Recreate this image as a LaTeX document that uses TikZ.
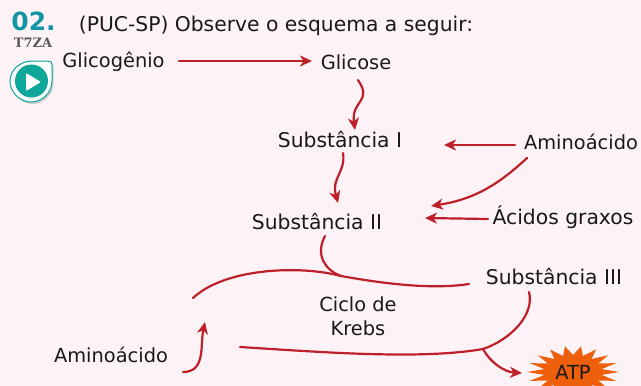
\documentclass[tikz,border=0pt]{standalone}
\usepackage{fontspec}
\setmainfont{DejaVu Sans}
\newfontfamily\slabfont{DejaVu Serif}
\usetikzlibrary{arrows.meta}
\definecolor{paper}{HTML}{FDF3F7}
\definecolor{flowred}{HTML}{BE2029}
\definecolor{tealmark}{HTML}{0FA79A}
\definecolor{numteal}{HTML}{1296A6}
\definecolor{burst}{HTML}{EE5F0C}
\tikzset{
  label/.style={font=\fontsize{19.4}{22}\selectfont, text=black!90, inner sep=0pt, anchor=center},
  widelabel/.style={label, font=\fontsize{20.3}{22}\selectfont},
  flow/.style={draw=flowred, line width=2.2pt, line cap=round, -{Stealth[length=12pt,width=11pt,inset=3.5pt]}},
  rim/.style={draw=flowred, line width=2.2pt, line cap=round},
  badge/.pic={
    \path[pic actions] (32,61) -- (48,61) .. controls (51,61) and (52,62) .. (52,65) -- (52,81)
      .. controls (52,92) and (43,102) .. (31,102)
      .. controls (20,102) and (10,92) .. (10,81.5)
      .. controls (10,70) and (20,61) .. (32,61) -- cycle;
  },
}
\begin{document}
\begin{tikzpicture}[x=1pt,y=-1pt]
  \useasboundingbox (0,0) rectangle (641,386);
  \fill[paper] (0,0) rectangle (641,386);

  % question number and play badge
  \node[inner sep=0pt, text=numteal, font=\fontsize{25}{28}\selectfont\bfseries] (num) at (33.5,21) {02.};
  \node[inner sep=0pt, text=black!65, font=\fontsize{13}{15}\selectfont\slabfont\bfseries] (code) at (33,43) {T7ZA};
  \pic[fill=black!20] at (1.5,2) {badge};
  \pic[fill=white, draw=tealmark, line width=1pt] {badge};
  \fill[tealmark] (31.5,81) circle (16.5);
  \fill[white, rounded corners=1pt] (26,73) -- (41,82) -- (26,91) -- cycle;

  % question statement
  \node[widelabel] (head) at (276,26) {(PUC-SP) Observe o esquema a seguir:};

  % labels
  \node[label] (gly) at (113.5,61.5) {Glicogênio};
  \node[label] (glu) at (356,62.5) {Glicose};
  \node[widelabel] (s1) at (340,140) {Substância I};
  \node[label] (aa1) at (581,142) {Aminoácido};
  \node[widelabel] (s2) at (317,222) {Substância II};
  \node[widelabel] (fat) at (563,217) {Ácidos graxos};
  \node[widelabel] (s3) at (554,277) {Substância III};
  \node[label] (cy1) at (358,304) {Ciclo de};
  \node[label] (cy2) at (358,328) {Krebs};
  \node[label] (aa2) at (111,355) {Aminoácido};

  % ATP burst
  \fill[burst] (619,372)
    \foreach \k in {1,...,35} {
      -- ({573+(mod(\k,2)==0 ? 46 : 29)*cos(\k*360/36)},{372+(mod(\k,2)==0 ? 26 : 17)*sin(\k*360/36)})
    } -- cycle;
  \node[label] (atp) at (573,372) {ATP};

  % free ends of the connectors
  \coordinate (a1) at (179,61);  \coordinate (a2) at (312,61);
  \coordinate (b1) at (358,80);  \coordinate (b2) at (355,130);
  \coordinate (c1) at (343,153); \coordinate (c2) at (338,203);
  \coordinate (d1) at (515,145); \coordinate (d2) at (444,145);
  \coordinate (e1) at (527,158); \coordinate (e2) at (431,206);
  \coordinate (f1) at (488,219); \coordinate (f2) at (425,218);
  \coordinate (g1) at (325,236); \coordinate (g2) at (341,276);
  \coordinate (h1) at (193,298); \coordinate (h2) at (469,284);
  \coordinate (i1) at (240,347); \coordinate (i2) at (529,292);
  \coordinate (j1) at (483,349); \coordinate (j2) at (522,373);
  \coordinate (k1) at (183,372); \coordinate (k2) at (205,322);

  % pathway arrows
  \draw[flow] (a1) -- (a2);
  \draw[flow] (b1) .. controls (373,102) and (351,100) .. (b2);
  \draw[flow] (c1) .. controls (346,172) and (331,178) .. (c2);
  \draw[flow] (d1) -- (d2);
  \draw[flow] (e1) .. controls (495,188) and (470,200) .. (e2);
  \draw[flow] (f1) -- (f2);
  \draw[flow] (j1) .. controls (490,362) and (504,372) .. (j2);
  \draw[flow] (k1) .. controls (206,372) and (200,345) .. (k2);

  % Krebs cycle rim and its feeders
  \draw[rim] (g1) .. controls (315,255) and (325,270) .. (g2);
  \draw[rim] (h1) .. controls (225,268) and (300,265) .. (g2)
             .. controls (380,283) and (430,290) .. (h2);
  \draw[rim] (i1) .. controls (320,352) and (420,360) .. (j1)
             .. controls (510,340) and (535,315) .. (i2);
\end{tikzpicture}
\end{document}
